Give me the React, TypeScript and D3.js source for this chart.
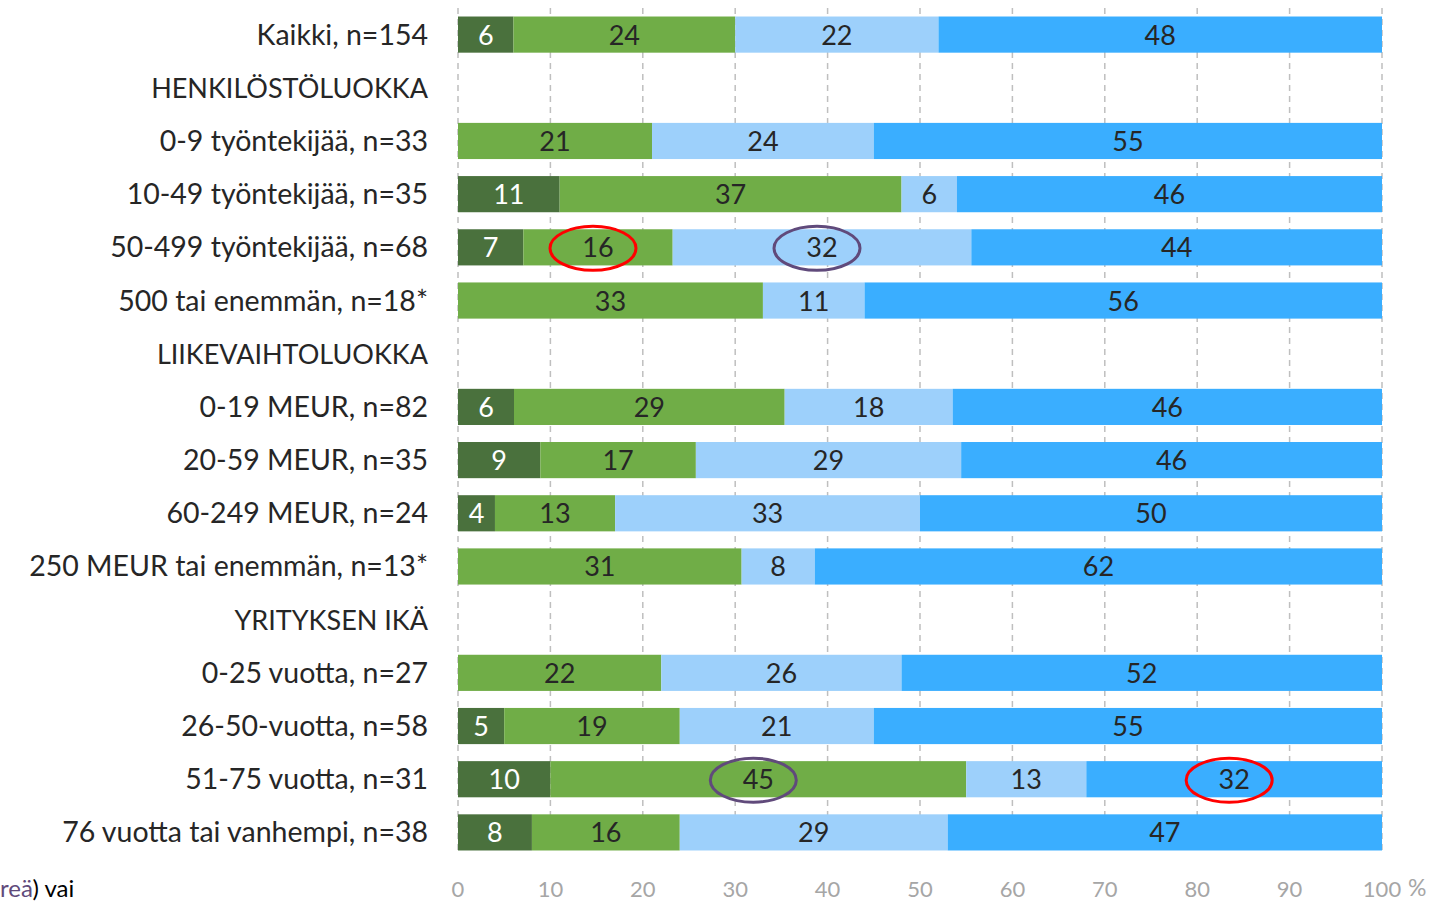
import React, { useEffect, useRef } from "react";
import * as d3 from "d3";

// row labels, header rows have no values
const categories = [
  "Kaikki, n=154",
  "HENKILÖSTÖLUOKKA",
  "0-9 työntekijää, n=33",
  "10-49 työntekijää, n=35",
  "50-499 työntekijää, n=68",
  "500 tai enemmän, n=18*",
  "LIIKEVAIHTOLUOKKA",
  "0-19 MEUR, n=82",
  "20-59 MEUR, n=35",
  "60-249 MEUR, n=24",
  "250 MEUR tai enemmän, n=13*",
  "YRITYKSEN IKÄ",
  "0-25 vuotta, n=27",
  "26-50-vuotta, n=58",
  "51-75 vuotta, n=31",
  "76 vuotta tai vanhempi, n=38",
];
const headers = ["HENKILÖSTÖLUOKKA", "LIIKEVAIHTOLUOKKA", "YRITYKSEN IKÄ"];

const s1 = [6, 0, 0, 11, 7, 0, 0, 6, 9, 4, 0, 0, 0, 5, 10, 8];
const s2 = [24, 0, 21, 37, 16, 33, 0, 29, 17, 13, 31, 0, 22, 19, 45, 16];
const s3 = [22, 0, 24, 6, 32, 11, 0, 18, 29, 33, 8, 0, 26, 21, 13, 29];
const s4 = [48, 0, 55, 46, 44, 56, 0, 46, 46, 50, 62, 0, 52, 55, 32, 47];

const seriesKeys = ["s1", "s2", "s3", "s4"];
const colors = ["#4a713d", "#70ad47", "#9dd0fb", "#3aaeff"];
const textColors = ["#ffffff", "#262626", "#262626", "#262626"];
const ticks = [0, 10, 20, 30, 40, 50, 60, 70, 80, 90, 100];

// circled values: [row, series, colour]
const circles: [number, number, string][] = [
  [4, 1, "#ff0000"],
  [4, 2, "#604a7b"],
  [14, 1, "#604a7b"],
  [14, 3, "#ff0000"],
];

const W = 1430;
const H = 904;
const FONT = "Lato, 'Open Sans', sans-serif";

export default function App() {
  const ref = useRef<SVGSVGElement>(null);

  useEffect(() => {
    const svg = d3.select(ref.current);
    svg.selectAll("*").remove();

    const margin = { top: 8, right: 48, bottom: 45, left: 458 };
    const x = d3.scaleLinear().domain([0, 1]).range([margin.left, W - margin.right]);
    const y = d3
      .scaleBand()
      .domain(categories)
      .range([margin.top, H - margin.bottom])
      .paddingInner(0.32)
      .paddingOuter(0.16);

    const rows = categories.map((c, i) => ({ cat: c, s1: s1[i], s2: s2[i], s3: s3[i], s4: s4[i] }));
    const dataRows = rows.filter((r) => !headers.includes(r.cat));
    const stacked = d3.stack<any>().keys(seriesKeys).offset(d3.stackOffsetExpand)(dataRows);

    // grid
    svg
      .append("g")
      .selectAll("line")
      .data(ticks)
      .enter()
      .append("line")
      .attr("x1", (d) => x(d / 100))
      .attr("x2", (d) => x(d / 100))
      .attr("y1", margin.top)
      .attr("y2", H - margin.bottom - 7)
      .attr("stroke", "#bfbfbf")
      .attr("stroke-width", 1.5)
      .attr("stroke-dasharray", "6,5");

    // bars
    const layer = svg
      .append("g")
      .selectAll("g")
      .data(stacked)
      .enter()
      .append("g")
      .attr("fill", (d, i) => colors[i]);

    layer
      .selectAll("rect")
      .data((d) => d.map((v) => ({ v, key: d.key })))
      .enter()
      .append("rect")
      .attr("x", (d) => x(d.v[0]))
      .attr("width", (d) => x(d.v[1]) - x(d.v[0]))
      .attr("y", (d) => y(d.v.data.cat)!)
      .attr("height", y.bandwidth());

    // value labels
    stacked.forEach((ser, si) => {
      svg
        .append("g")
        .selectAll("text")
        .data(ser.filter((v) => v.data[ser.key] > 0))
        .enter()
        .append("text")
        .attr("x", (v) => (x(v[0]) + x(v[1])) / 2)
        .attr("y", (v) => y(v.data.cat)! + y.bandwidth() / 2 + 10)
        .attr("text-anchor", "middle")
        .attr("font-family", FONT)
        .attr("font-size", 27)
        .attr("fill", textColors[si])
        .text((v) => v.data[ser.key]);
    });

    // circles
    circles.forEach(([ri, si, col]) => {
      const cat = categories[ri];
      const ser = stacked[si];
      const v = ser.find((d) => d.data.cat === cat)!;
      svg
        .append("ellipse")
        .attr("cx", (x(v[0]) + x(v[1])) / 2 - 5)
        .attr("cy", y(cat)! + y.bandwidth() / 2 + 1)
        .attr("rx", 43)
        .attr("ry", 22)
        .attr("fill", "none")
        .attr("stroke", col)
        .attr("stroke-width", 3);
    });

    // category labels (headers a bit tighter)
    svg
      .append("g")
      .selectAll("text")
      .data(categories)
      .enter()
      .append("text")
      .attr("x", 428)
      .attr("y", (d) => y(d)! + y.bandwidth() / 2 + 10)
      .attr("text-anchor", "end")
      .attr("font-family", FONT)
      .attr("font-size", (d) => (headers.includes(d) ? 27 : 28.5))
      .attr("fill", "#262626")
      .text((d) => d);

    // x axis labels
    svg
      .append("g")
      .selectAll("text")
      .data(ticks)
      .enter()
      .append("text")
      .attr("x", (d) => x(d / 100))
      .attr("y", 897)
      .attr("text-anchor", "middle")
      .attr("font-family", FONT)
      .attr("font-size", 22)
      .attr("fill", "#a6a6a6")
      .text((d) => d);

    svg
      .append("text")
      .attr("x", x(1) + 26)
      .attr("y", 896)
      .attr("font-family", FONT)
      .attr("font-size", 23)
      .attr("fill", "#a6a6a6")
      .text("%");

    const note = svg
      .append("text")
      .attr("x", 0)
      .attr("y", 897)
      .attr("font-family", FONT)
      .attr("font-size", 24)
      .attr("fill", "#000000");
    note.append("tspan").attr("fill", "#604a7b").text("reä");
    note.append("tspan").text(") vai");
  }, []);

  return (
    <svg
      ref={ref}
      width={W}
      height={H}
      style={{ position: "absolute", left: 0, top: 0, background: "#ffffff" }}
    />
  );
}
